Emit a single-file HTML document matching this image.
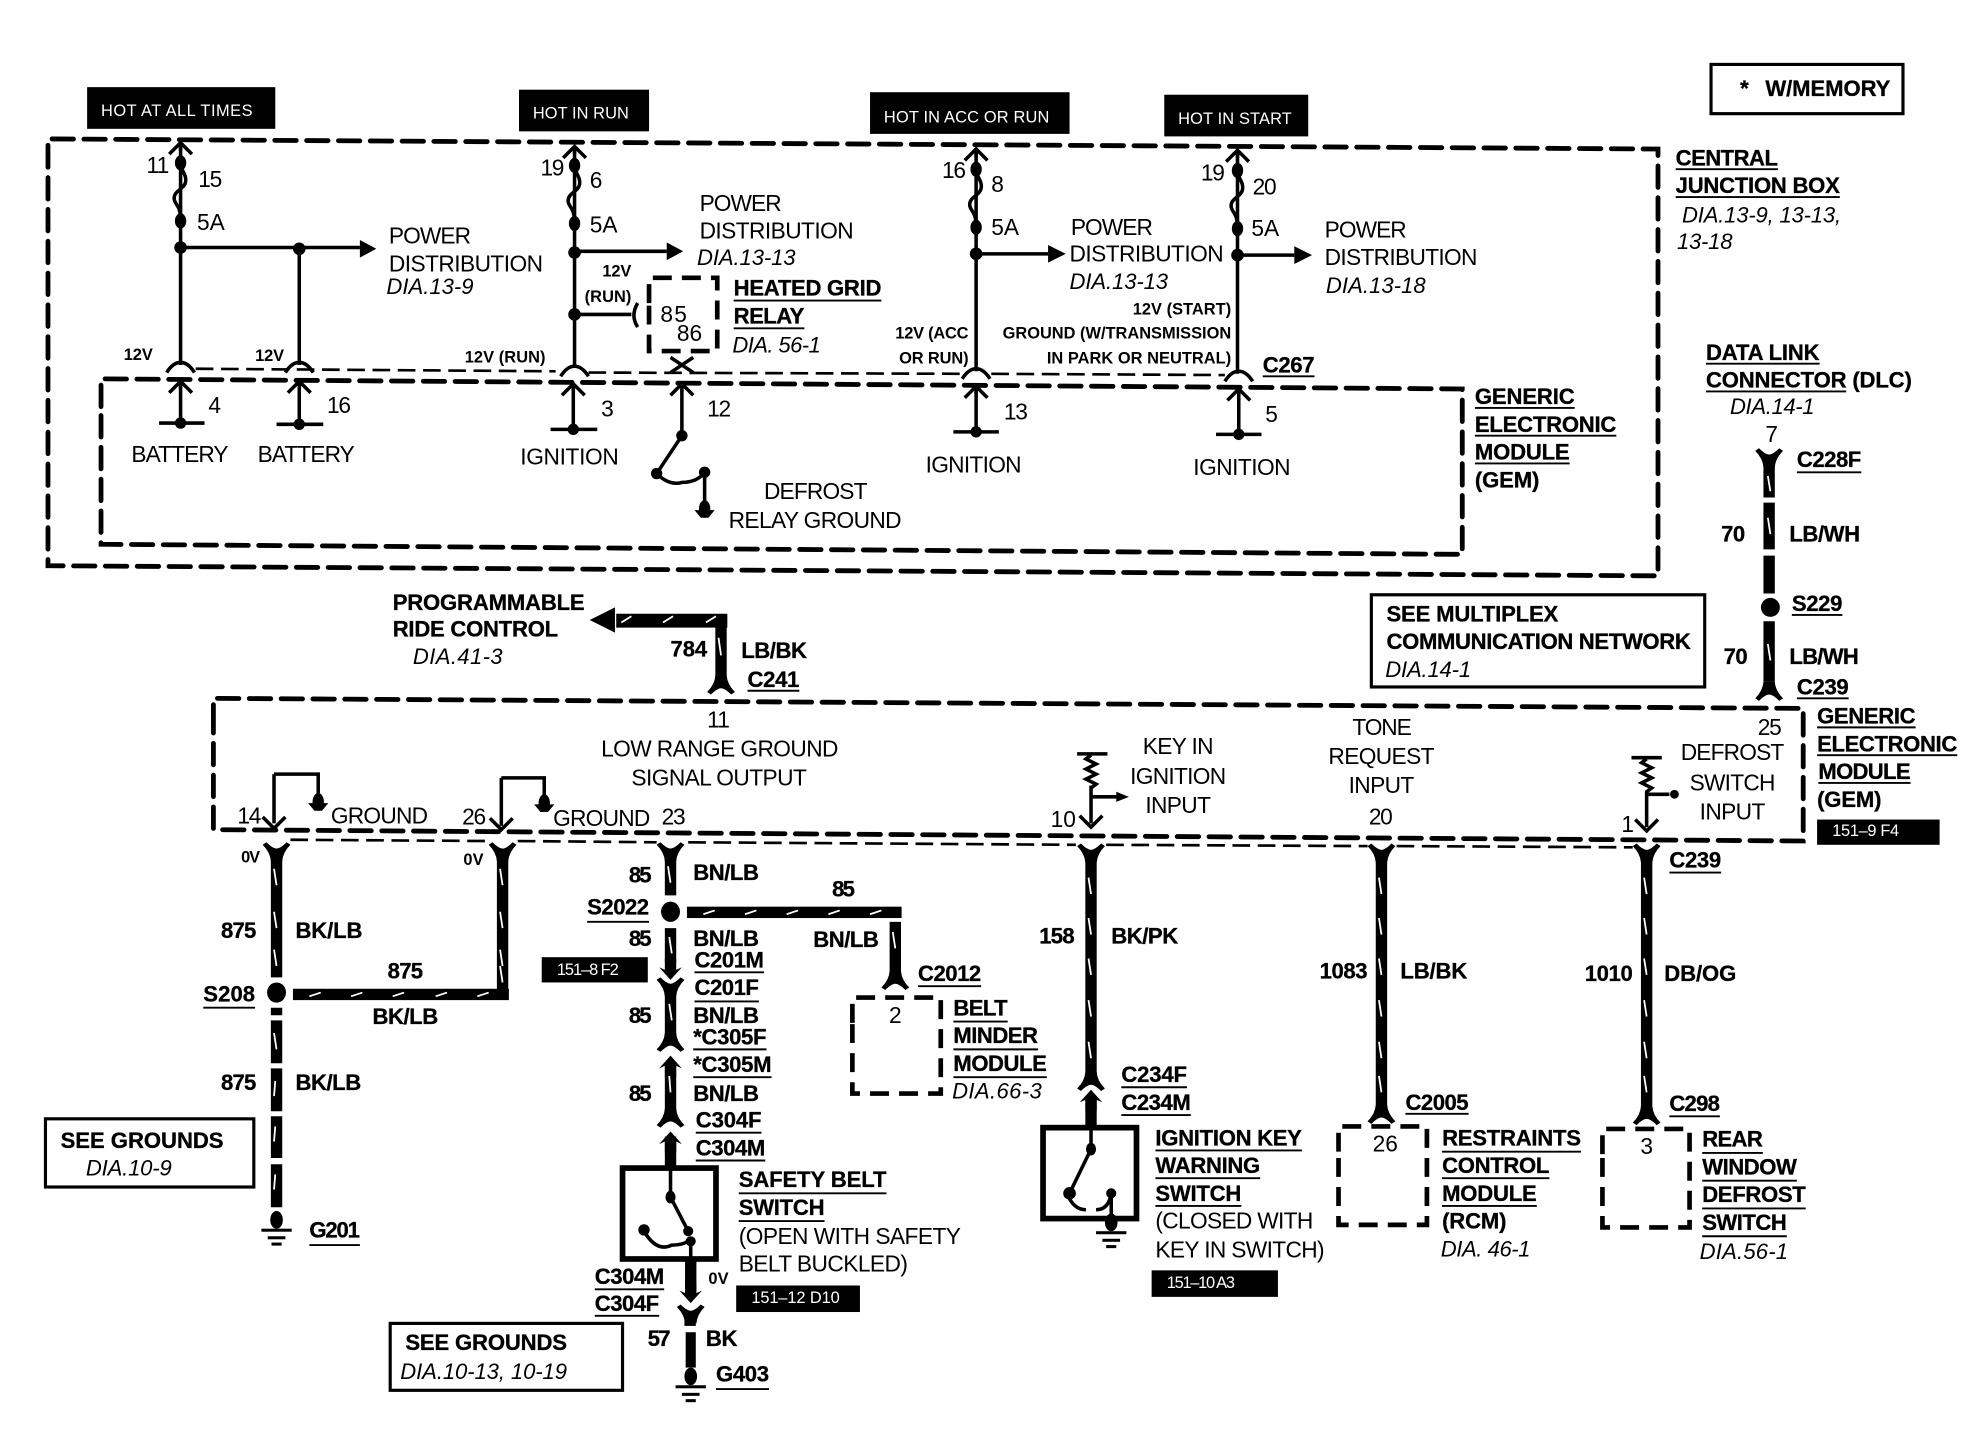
<!DOCTYPE html>
<html><head><meta charset="utf-8"><title>Wiring diagram</title>
<style>
html,body{margin:0;padding:0;background:#fff}
svg{display:block}
text{font-family:"Liberation Sans",sans-serif;fill:#000}
.n{font-size:18px}
.b{font-size:17.5px;font-weight:bold;stroke:#000;stroke-width:.25px}
.i{font-size:17.5px;font-style:italic}
.s{font-size:13px;font-weight:bold}
.k{font-size:13px;fill:#fff}
.d{fill:none;stroke:#000;stroke-width:3.8;stroke-dasharray:17 8.2;stroke-linecap:round}
.dm{fill:none;stroke:#000;stroke-width:3.7;stroke-dasharray:15 8}
.h{fill:none;stroke:#000;stroke-width:2.1;stroke-dasharray:14 6}
.t{fill:none;stroke:#000;stroke-width:2.8}
.u{fill:none;stroke:#000;stroke-width:1.5}
.w{fill:none;stroke:#000;stroke-width:9}
.x{fill:none;stroke:#fff;stroke-width:1.4}
.bx{fill:none;stroke:#000;stroke-width:2.5}
.sb{fill:none;stroke:#000;stroke-width:4.5}
</style></head><body>
<svg xmlns="http://www.w3.org/2000/svg" width="1980" height="1456" viewBox="0 0 1568 1153">
<defs>
<path id="fuse" class="t" d="M0 0C0 6 5 9 4 15C3 21-6 22-5 29C-4 34 0 33 0 46"/>
<path id="up" class="t" d="M-9 9L0 0L9 9M0 0V6"/>
<path id="dn" class="t" d="M-9 -9L0 0L9 -9"/>
<path id="arc" class="t" d="M-11 5Q-6 -3 0 -3Q6 -3 11 5"/>
<path id="yt" d="M-11 -5L-8 -7Q-3 -2 0 -2Q3 -2 8 -7L11 -5Q5 1 4.5 8L-4.5 8Q-5 1-11 -5Z"/>
<path id="yb" d="M-11 5L-8 7Q-3 2 0 2Q3 2 8 7L11 5Q5 -1 4.5 -8L-4.5 -8Q-5 -1-11 5Z"/>
<path id="au" d="M-9 9L0 -1L9 9L4.5 7V16H-4.5V7Z"/>
<path id="ad" d="M-9 -9L0 1L9 -9L4.5 -7V-16H-4.5V-7Z"/>
<g id="gnd"><ellipse cx="0" cy="0" rx="5" ry="7"/><rect x="-12" y="7" width="24" height="2.4"/><rect x="-7" y="13" width="14" height="2.4"/><rect x="-4" y="18" width="8" height="2.4"/></g>
<g id="gd"><ellipse cx="0" cy="-1" rx="4.5" ry="7"/><path d="M-8 0H8L3 6H-3Z"/></g>
<path id="zig" class="t" d="M0 0L-4 3L4 7L-4 11L4 15L-4 19L4 23L0 26"/>
</defs>

<!-- black tags -->
<rect x="69" y="69" width="149" height="33"/><text class="k" x="80" y="92" textLength="120">HOT AT ALL TIMES</text>
<rect x="411" y="71" width="103" height="33"/><text class="k" x="422" y="94" textLength="76">HOT IN RUN</text>
<rect x="689" y="73" width="158" height="33"/><text class="k" x="700" y="97" textLength="131">HOT IN ACC OR RUN</text>
<rect x="922" y="75" width="114" height="33"/><text class="k" x="933" y="98" textLength="90">HOT IN START</text>
<rect x="429" y="758" width="84" height="20"/><text class="k" x="441" y="772" textLength="49">151–8 F2</text>
<rect x="1439" y="649" width="97" height="20"/><text class="k" x="1451" y="662" textLength="53">151–9 F4</text>
<rect x="583" y="1018" width="98" height="21"/><text class="k" x="595" y="1032" textLength="70">151–12 D10</text>
<rect x="912" y="1006" width="100" height="21"/><text class="k" x="924" y="1020" textLength="54">151–10 A3</text>

<!-- boxes solid -->
<rect class="bx" x="1355" y="51" width="152" height="39"/>
<rect class="bx" x="1086" y="471" width="264" height="73"/>
<rect class="bx" x="36" y="886" width="165" height="54"/>
<rect class="bx" x="309" y="1048" width="184" height="53"/>
<rect class="sb" x="493" y="925" width="74" height="72"/>
<rect class="sb" x="826" y="893" width="74" height="72"/>

<!-- dashed module boxes -->
<path class="d" d="M38 132V110L1313 118V456L38 448V132"/>
<path class="d" d="M80 322V300L1158 308V439L80 431V322"/>
<path class="d" d="M169 575V553L1428 561V666L169 657V575"/>
<path class="h" d="M155 292L440 294M466 295L762 296M785 296L970 297"/>
<path class="h" d="M230 665L385 666M410 666L520 667M545 667L852 669M876 669L1083 670M1106 670L1293 671"/>
<path class="dm" d="M514 240V220H568V278H514V240"/>
<path class="dm" d="M675 810V790H745V866H675V810"/>
<path class="dm" d="M1060 912V892H1130V970H1060V912"/>
<path class="dm" d="M1269 914V894H1338V972H1269V914"/>

<!-- upper thin wires -->
<path class="t" d="M143 116V289M143 196H285M237 197V289M455 118V291M455 199H528M455 249H500M773 120V294M773 201H830M980 121V296M980 202H1025M143 306V335M126 335H162M237 306V336M219 336H256M454 308V340M436 340H473M773 310V342M755 342H791M981 312V344M963 344H999M540 308V345L520 375M558 374V405"/>
<path class="t" d="M520 375Q530 385 540 382Q552 382 558 374"/>
<path class="t" d="M505 240Q499 250 505 259M531 283L549 295M549 283L531 295"/>
<path d="M285 190L298 197L285 204ZM528 192L541 199L528 206ZM830 194L844 201L830 208ZM1025 195L1039 202L1025 209Z"/>
<use href="#up" x="143" y="113"/><use href="#up" x="455" y="116"/><use href="#up" x="773" y="118"/><use href="#up" x="980" y="119"/>
<use href="#fuse" x="143" y="129"/><use href="#fuse" x="455" y="131"/><use href="#fuse" x="773" y="134"/><use href="#fuse" x="980" y="135"/>
<use href="#arc" x="143" y="290"/><use href="#arc" x="237" y="290"/><use href="#arc" x="455" y="293"/><use href="#arc" x="773" y="295"/><use href="#arc" x="981" y="297"/>
<use href="#up" x="143" y="302"/><use href="#up" x="237" y="302"/><use href="#up" x="454" y="304"/><use href="#up" x="540" y="304"/><use href="#up" x="773" y="306"/><use href="#up" x="981" y="308"/>
<g>
<ellipse cx="143" cy="129" rx="4.5" ry="6"/><ellipse cx="143" cy="175" rx="4.5" ry="6"/><circle cx="143" cy="196" r="5"/><circle cx="237" cy="197" r="5"/>
<ellipse cx="455" cy="131" rx="4.5" ry="6"/><ellipse cx="455" cy="177" rx="4.5" ry="6"/><circle cx="455" cy="200" r="5"/><circle cx="455" cy="249" r="5"/>
<ellipse cx="773" cy="134" rx="4.5" ry="6"/><ellipse cx="773" cy="180" rx="4.5" ry="6"/><circle cx="773" cy="201" r="5"/>
<ellipse cx="980" cy="135" rx="4.5" ry="6"/><ellipse cx="980" cy="181" rx="4.5" ry="6"/><circle cx="980" cy="202" r="5"/>
<circle cx="143" cy="335" r="4.5"/><circle cx="237" cy="336" r="4.5"/><circle cx="454" cy="340" r="4.5"/><circle cx="773" cy="342" r="4.5"/><circle cx="981" cy="344" r="4.5"/>
<circle cx="540" cy="345" r="4.5"/><circle cx="520" cy="375" r="4.5"/><circle cx="558" cy="374" r="4.5"/>
</g>
<use href="#gd" x="558" y="404"/>

<!-- GEM lower internals -->
<path class="t" d="M217 613V652M217 613H252V630M397 616V654M397 616H431V630M864 622V652M864 631H885M853 597H877M1304 626V655M1304 629H1322M1292 600H1316"/>
<use href="#dn" x="217" y="656"/><use href="#dn" x="397" y="657"/><use href="#dn" x="864" y="655"/><use href="#dn" x="1304" y="658"/>
<use href="#gd" x="252" y="636"/><use href="#gd" x="431" y="637"/>
<use href="#zig" x="864" y="598"/><use href="#zig" x="1304" y="601"/>
<path d="M884 627L894 631L884 635Z"/><circle cx="1326" cy="629" r="3.5"/>

<!-- thick wires -->
<path class="w" d="M1401 366V394M1401 398V435M1401 440V470M1401 492V540M571 493V540M219 678V774M219 798V804M219 808V842M219 846V880M219 884V917M219 922V956M398 678V791M531 678V709M531 735V762M531 786V822M531 842V880M531 900V925M547 997V1022M864 680V853M864 868V893M1094 680V878M1304 680V878M709 730V772"/>
<path d="M488 486H576V497H488Z"/><path d="M467 491L487 481V501Z"/>
<rect x="232" y="783" width="171" height="9"/><rect x="544" y="718" width="170" height="9"/>
<rect x="542" y="1040" width="9" height="10"/>
<rect x="543" y="1055" width="8" height="28"/>
<!-- flared connector ends -->
<use href="#yt" x="1401" y="362"/><use href="#yb" x="571" y="543"/><use href="#yb" x="1401" y="548"/>
<use href="#yt" x="219" y="674"/><use href="#yt" x="398" y="674"/><use href="#yt" x="531" y="674"/><use href="#yt" x="864" y="675"/><use href="#yt" x="1094" y="675"/><use href="#yt" x="1304" y="675"/>
<use href="#yb" x="709" y="777"/><use href="#yb" x="1094" y="883"/><use href="#yb" x="1304" y="884"/><use href="#yb" x="864" y="857"/><use href="#yb" x="531" y="826"/><use href="#yb" x="531" y="886"/>
<use href="#yt" x="531" y="781"/><use href="#yt" x="547" y="1040"/>
<use href="#ad" x="531" y="775"/><use href="#au" x="531" y="837"/><use href="#au" x="531" y="897"/><use href="#au" x="864" y="864"/><use href="#ad" x="547" y="1031"/>
<circle cx="1402" cy="481" r="7.5"/><ellipse cx="219" cy="786" rx="7.5" ry="8"/><ellipse cx="531" cy="722" rx="7.5" ry="8"/>
<use href="#gnd" x="219" y="966"/><use href="#gnd" x="547" y="1090"/><use href="#gnd" x="880" y="968"/>

<!-- white ticks -->
<path class="x" d="M1400 377l2 12M1400 410l2 13M1400 510l2 13M569 505l2 14M492 493l8-5M525 493l8-5M559 493l8-5
M217 688l2 13M217 722l2 13M217 752l2 13M217 818l2 13M218 856l-1 12M218 892l-1 12M218 930l-1 12
M396 688l2 13M396 722l2 13M396 752l2 13M396 765l2 13
M245 789l9-3M278 789l9-3M311 789l9-3M345 789l9-3M378 789l9-3
M529 686l2 13M530 742l2 13M530 795l2 13M530 852l1 13
M557 724l9-3M590 724l9-3M623 724l9-3M656 724l9-3M689 724l9-3M707 738l2 13
M862 695l2 13M862 727l2 13M862 759l2 13M862 792l2 13M862 825l2 13
M1092 695l2 13M1092 727l2 13M1092 759l2 13M1092 792l2 13M1092 825l2 13M1092 852l2 13
M1302 695l2 13M1302 727l2 13M1302 759l2 13M1302 792l2 13M1302 825l2 13M1302 852l2 13"/>

<!-- switch contents -->
<path class="t" d="M531 925V948L545 975M547 980V997M847 945L864 910V893M880 945V965"/>
<path class="t" d="M510 975Q520 992 532 986Q544 986 547 980"/>
<path class="t" d="M845 945Q850 958 860 958M868 958Q878 958 880 945"/>
<ellipse cx="531" cy="948" rx="4" ry="5"/><circle cx="545" cy="975" r="4"/><circle cx="547" cy="983" r="4"/><circle cx="510" cy="974" r="4.5"/>
<ellipse cx="864" cy="910" rx="4" ry="5"/><circle cx="847" cy="945" r="5"/><circle cx="880" cy="945" r="4"/>

<!-- underlines -->
<path class="u" d="M581 238H698M581 260H637M1327 134H1408M1327 156H1457M1168 323H1247M1168 345H1280M1168 367H1243M1351 288H1441M1351 310H1462M1423 374H1474M1000 298H1041M1419 487H1459M1423 553H1464M592 547H633M1439 576H1517M1439 598H1550M1440 620H1513M161 798H202M465 730H514M550 770H605M550 793H601M549 831H607M549 853H611M551 897H603M551 919H606M471 1021H526M471 1042H522M567 1100H609M245 986H285M585 945H702M585 967H653M727 781H777M755 809H798M755 831H822M755 853H829M888 861H940M888 883H943M915 911H1031M915 933H998M915 955H983M1113 882H1163M1142 912H1252M1142 933H1227M1142 955H1217M1322 691H1363M1322 884H1362M1348 913H1396M1348 935H1423M1348 957H1430M1348 979H1415"/>

<!-- labels top -->
<text class="b" x="1378" y="76">*</text><text class="b" x="1398" y="76" textLength="99">W/MEMORY</text>
<text class="n" x="116" y="137" textLength="18">11</text><text class="n" x="157" y="148" textLength="19">15</text><text class="n" x="156" y="182" textLength="22">5A</text>
<text class="n" x="308" y="193" textLength="65">POWER</text><text class="n" x="308" y="215" textLength="122">DISTRIBUTION</text><text class="i" x="306" y="233" textLength="69">DIA.13-9</text>
<text class="s" x="98" y="285" textLength="23">12V</text><text class="s" x="202" y="286" textLength="23">12V</text><text class="s" x="368" y="287" textLength="64">12V (RUN)</text>
<text class="n" x="428" y="139" textLength="19">19</text><text class="n" x="467" y="149">6</text><text class="n" x="467" y="184" textLength="22">5A</text>
<text class="n" x="554" y="167" textLength="65">POWER</text><text class="n" x="554" y="189" textLength="122">DISTRIBUTION</text><text class="i" x="552" y="210" textLength="78">DIA.13-13</text>
<text class="s" x="477" y="219" textLength="23">12V</text><text class="s" x="463" y="239" textLength="37">(RUN)</text>
<text class="n" x="523" y="255" textLength="21">85</text><text class="n" x="536" y="270" textLength="20">86</text>
<text class="b" x="581" y="234" textLength="117">HEATED GRID</text><text class="b" x="581" y="256" textLength="56">RELAY</text><text class="i" x="580" y="279" textLength="70">DIA. 56-1</text>
<text class="n" x="560" y="330" textLength="19">12</text><text class="n" x="605" y="395" textLength="82">DEFROST</text><text class="n" x="577" y="418" textLength="137">RELAY GROUND</text>
<text class="n" x="165" y="327">4</text><text class="n" x="259" y="327" textLength="19">16</text><text class="n" x="476" y="330">3</text><text class="n" x="795" y="332" textLength="19">13</text><text class="n" x="1002" y="334">5</text>
<text class="n" x="104" y="366" textLength="77">BATTERY</text><text class="n" x="204" y="366" textLength="77">BATTERY</text>
<text class="n" x="412" y="368" textLength="78">IGNITION</text><text class="n" x="733" y="374" textLength="76">IGNITION</text><text class="n" x="945" y="376" textLength="77">IGNITION</text>
<text class="n" x="746" y="141" textLength="19">16</text><text class="n" x="785" y="152">8</text><text class="n" x="785" y="186" textLength="22">5A</text>
<text class="n" x="848" y="186" textLength="65">POWER</text><text class="n" x="847" y="207" textLength="122">DISTRIBUTION</text><text class="i" x="847" y="229" textLength="78">DIA.13-13</text>
<text class="s" x="709" y="268" textLength="58">12V (ACC</text><text class="s" x="712" y="288" textLength="55">OR RUN)</text>
<text class="n" x="951" y="143" textLength="19">19</text><text class="n" x="992" y="154" textLength="19">20</text><text class="n" x="991" y="187" textLength="22">5A</text>
<text class="n" x="1049" y="188" textLength="65">POWER</text><text class="n" x="1049" y="210" textLength="121">DISTRIBUTION</text><text class="i" x="1050" y="232" textLength="79">DIA.13-18</text>
<text class="s" x="897" y="249" textLength="78">12V (START)</text><text class="s" x="794" y="268" textLength="181">GROUND (W/TRANSMISSION</text><text class="s" x="829" y="288" textLength="146">IN PARK OR NEUTRAL)</text>
<text class="b" x="1000" y="295" textLength="41">C267</text>
<text class="b" x="1327" y="131" textLength="81">CENTRAL</text><text class="b" x="1327" y="153" textLength="130">JUNCTION BOX</text><text class="i" x="1332" y="176" textLength="126">DIA.13-9, 13-13,</text><text class="i" x="1328" y="197" textLength="44">13-18</text>
<text class="b" x="1168" y="320" textLength="79">GENERIC</text><text class="b" x="1168" y="342" textLength="112">ELECTRONIC</text><text class="b" x="1168" y="364" textLength="75">MODULE</text><text class="b" x="1168" y="386" textLength="51">(GEM)</text>
<text class="b" x="1351" y="285" textLength="90">DATA LINK</text><text class="b" x="1351" y="307" textLength="163">CONNECTOR (DLC)</text><text class="i" x="1370" y="328" textLength="67">DIA.14-1</text>
<text class="n" x="1398" y="350">7</text><text class="b" x="1423" y="370" textLength="51">C228F</text>
<text class="b" x="1363" y="429" textLength="19">70</text><text class="b" x="1417" y="429" textLength="56">LB/WH</text>
<text class="b" x="1419" y="484" textLength="40">S229</text><text class="b" x="1365" y="526" textLength="19">70</text><text class="b" x="1417" y="526" textLength="55">LB/WH</text><text class="b" x="1423" y="550" textLength="41">C239</text>
<text class="b" x="1098" y="492" textLength="136">SEE MULTIPLEX</text><text class="b" x="1098" y="514" textLength="241">COMMUNICATION NETWORK</text><text class="i" x="1097" y="536" textLength="68">DIA.14-1</text>
<text class="b" x="311" y="483" textLength="152">PROGRAMMABLE</text><text class="b" x="311" y="504" textLength="131">RIDE CONTROL</text><text class="i" x="327" y="526" textLength="71">DIA.41-3</text>
<text class="b" x="531" y="520" textLength="29">784</text><text class="b" x="587" y="521" textLength="52">LB/BK</text><text class="b" x="592" y="544" textLength="41">C241</text>

<!-- labels lower GEM -->
<text class="n" x="560" y="576" textLength="18">11</text><text class="n" x="476" y="599" textLength="188">LOW RANGE GROUND</text><text class="n" x="500" y="622" textLength="139">SIGNAL OUTPUT</text>
<text class="n" x="905" y="597" textLength="56">KEY IN</text><text class="n" x="895" y="621" textLength="76">IGNITION</text><text class="n" x="907" y="644" textLength="52">INPUT</text>
<text class="n" x="1071" y="582" textLength="47">TONE</text><text class="n" x="1052" y="605" textLength="84">REQUEST</text><text class="n" x="1068" y="628" textLength="52">INPUT</text><text class="n" x="1084" y="653" textLength="19">20</text>
<text class="n" x="1392" y="582" textLength="19">25</text><text class="n" x="1331" y="602" textLength="82">DEFROST</text><text class="n" x="1338" y="626" textLength="68">SWITCH</text><text class="n" x="1346" y="649" textLength="52">INPUT</text>
<text class="b" x="1439" y="573" textLength="78">GENERIC</text><text class="b" x="1439" y="595" textLength="111">ELECTRONIC</text><text class="b" x="1440" y="617" textLength="73">MODULE</text><text class="b" x="1439" y="639" textLength="51">(GEM)</text>
<text class="n" x="188" y="652" textLength="19">14</text><text class="n" x="262" y="652" textLength="77">GROUND</text><text class="n" x="366" y="653" textLength="19">26</text><text class="n" x="438" y="654" textLength="77">GROUND</text><text class="n" x="524" y="653" textLength="19">23</text>
<text class="n" x="832" y="655" textLength="20">10</text><text class="n" x="1284" y="659">1</text>

<!-- labels wires -->
<text class="s" x="191" y="683" textLength="15">0V</text><text class="s" x="367" y="685" textLength="16">0V</text><text class="s" x="561" y="1017" textLength="16">0V</text>
<text class="b" x="175" y="743" textLength="28">875</text><text class="b" x="234" y="743" textLength="53">BK/LB</text><text class="b" x="161" y="793" textLength="41">S208</text>
<text class="b" x="307" y="775" textLength="28">875</text><text class="b" x="295" y="811" textLength="52">BK/LB</text>
<text class="b" x="175" y="863" textLength="28">875</text><text class="b" x="234" y="863" textLength="52">BK/LB</text><text class="b" x="245" y="980" textLength="40">G201</text>
<text class="b" x="48" y="909" textLength="129">SEE GROUNDS</text><text class="i" x="68" y="931" textLength="68">DIA.10-9</text>
<text class="b" x="498" y="699" textLength="18">85</text><text class="b" x="549" y="697" textLength="52">BN/LB</text><text class="b" x="465" y="724" textLength="49">S2022</text><text class="b" x="498" y="749" textLength="18">85</text><text class="b" x="549" y="749" textLength="52">BN/LB</text>
<text class="b" x="659" y="710" textLength="18">85</text><text class="b" x="644" y="750" textLength="52">BN/LB</text><text class="b" x="727" y="777" textLength="50">C2012</text>
<text class="b" x="550" y="766" textLength="55">C201M</text><text class="b" x="550" y="788" textLength="51">C201F</text><text class="b" x="498" y="810" textLength="18">85</text><text class="b" x="549" y="810" textLength="52">BN/LB</text>
<text class="b" x="549" y="827" textLength="58">*C305F</text><text class="b" x="549" y="849" textLength="62">*C305M</text><text class="b" x="498" y="872" textLength="18">85</text><text class="b" x="549" y="872" textLength="52">BN/LB</text>
<text class="b" x="551" y="893" textLength="52">C304F</text><text class="b" x="551" y="915" textLength="55">C304M</text>
<text class="b" x="585" y="940" textLength="117">SAFETY BELT</text><text class="b" x="585" y="962" textLength="68">SWITCH</text><text class="n" x="585" y="985" textLength="176">(OPEN WITH SAFETY</text><text class="n" x="585" y="1007" textLength="134">BELT BUCKLED)</text>
<text class="b" x="471" y="1017" textLength="55">C304M</text><text class="b" x="471" y="1038" textLength="51">C304F</text>
<text class="b" x="513" y="1066" textLength="18">57</text><text class="b" x="559" y="1066" textLength="25">BK</text><text class="b" x="567" y="1094" textLength="42">G403</text>
<text class="b" x="321" y="1069" textLength="128">SEE GROUNDS</text><text class="i" x="317" y="1092" textLength="132">DIA.10-13, 10-19</text>
<text class="n" x="704" y="810">2</text><text class="b" x="755" y="804" textLength="43">BELT</text><text class="b" x="755" y="826" textLength="67">MINDER</text><text class="b" x="755" y="848" textLength="74">MODULE</text><text class="i" x="754" y="870" textLength="71">DIA.66-3</text>
<text class="b" x="823" y="747" textLength="28">158</text><text class="b" x="880" y="747" textLength="53">BK/PK</text><text class="b" x="888" y="857" textLength="52">C234F</text><text class="b" x="888" y="879" textLength="55">C234M</text>
<text class="b" x="915" y="907" textLength="116">IGNITION KEY</text><text class="b" x="915" y="929" textLength="83">WARNING</text><text class="b" x="915" y="951" textLength="68">SWITCH</text><text class="n" x="915" y="973" textLength="125">(CLOSED WITH</text><text class="n" x="915" y="996" textLength="134">KEY IN SWITCH)</text>
<text class="b" x="1045" y="775" textLength="38">1083</text><text class="b" x="1109" y="775" textLength="53">LB/BK</text><text class="b" x="1113" y="879" textLength="50">C2005</text>
<text class="n" x="1087" y="912" textLength="20">26</text><text class="b" x="1142" y="907" textLength="110">RESTRAINTS</text><text class="b" x="1142" y="929" textLength="85">CONTROL</text><text class="b" x="1142" y="951" textLength="75">MODULE</text><text class="b" x="1142" y="973" textLength="51">(RCM)</text><text class="i" x="1141" y="995" textLength="71">DIA. 46-1</text>
<text class="b" x="1322" y="687" textLength="41">C239</text><text class="b" x="1255" y="777" textLength="38">1010</text><text class="b" x="1318" y="777" textLength="57">DB/OG</text><text class="b" x="1322" y="880" textLength="40">C298</text>
<text class="n" x="1299" y="914">3</text><text class="b" x="1348" y="908" textLength="48">REAR</text><text class="b" x="1348" y="930" textLength="75">WINDOW</text><text class="b" x="1348" y="952" textLength="82">DEFROST</text><text class="b" x="1348" y="974" textLength="67">SWITCH</text><text class="i" x="1346" y="997" textLength="70">DIA.56-1</text>
</svg>
</body></html>
